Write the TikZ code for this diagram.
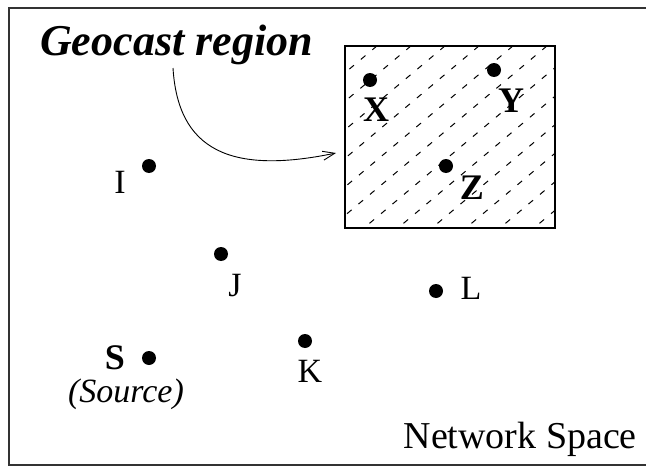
\documentclass[tikz,border=0pt]{standalone}
\usepackage{fontspec}
\setmainfont{Liberation Serif}
\usetikzlibrary{arrows.meta}
\begin{document}
\begin{tikzpicture}[x=1pt,y=-1pt,
  dot/.style={circle,fill=black,inner sep=0pt,minimum size=14pt},
  lbl/.style={inner sep=0pt,font=\fontsize{34}{40}\selectfont},
  blbl/.style={inner sep=0pt,font=\fontsize{36}{42}\selectfont\bfseries},
  hatch/.style={line width=1pt,dash pattern=on 6pt off 9pt},
  pointer/.style={line width=0.9pt,-{Straight Barb[length=12pt,width=9pt]}},
]
\useasboundingbox (0,0) rectangle (646,471);
\clip (0,0) rectangle (646,471);

% outer frame of the network space
\draw[line width=1.4pt,black!80] (9,8) rectangle (670,465);

% geocast region with diagonal dashed hatching
\node[draw,line width=1.2pt,minimum width=210pt,minimum height=182pt,inner sep=0pt] (region) at (450,137) {};
\begin{scope}
  \clip (region.south west) rectangle (region.north east);
  \foreach \i in {0,...,13}
    \draw[hatch] (\i*34+120,233) -- ++(40:420pt);
\end{scope}

% title and its pointer
\node[anchor=base west,inner sep=0pt,font=\fontsize{44}{50}\selectfont\bfseries\itshape] (title) at (40,56) {Geocast region};
\coordinate (pstart) at (173,68);
\coordinate (pend) at (336,153);
\draw[pointer] (pstart) .. controls (178,150) and (230,175) .. (pend);

% nodes inside the region
\node[dot] (X) at (370,80) {};
\node[blbl] (Xl) at (376,110) {X};
\node[dot] (Y) at (494,70) {};
\node[blbl] (Yl) at (511,101) {Y};
\node[dot] (Z) at (446,166) {};
\node[blbl] (Zl) at (472,188) {Z};

% other nodes
\node[dot] (I) at (149,166) {};
\node[lbl] (Il) at (120,182) {I};
\node[dot] (J) at (221,254) {};
\node[lbl] (Jl) at (235,286) {J};
\node[dot] (K) at (305,341) {};
\node[lbl] (Kl) at (310,371) {K};
\node[dot] (L) at (436,291) {};
\node[lbl] (Ll) at (471,288) {L};
\node[dot] (S) at (149,358) {};
\node[blbl] (Sl) at (115,358) {S};
\node[lbl,anchor=base,font=\fontsize{34}{40}\selectfont\itshape] (Src) at (126,402) {(Source)};

\node[lbl,anchor=base east,font=\fontsize{38}{44}\selectfont] (space) at (637,448) {Network Space};
\end{tikzpicture}
\end{document}
